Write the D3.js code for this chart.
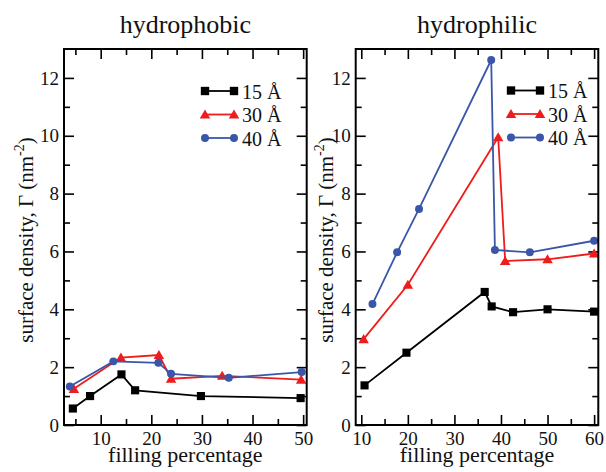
<!DOCTYPE html>
<html>
<head>
<meta charset="utf-8">
<script src="https://cdn.jsdelivr.net/npm/d3@7"></script>
<style>
  body { margin: 0; background: #fff; }
  svg { font-family: "Liberation Serif", "Times New Roman", serif; }
</style>
</head>
<body>
<svg id="chart" width="606" height="472"></svg>
<script>
// series names + colours
var seriesNames = ['15 Å', '30 Å', '40 Å'];
var seriesColors = ['#000000', '#ee1c1c', '#3a56a8'];
var seriesShapes = [d3.symbolSquare, d3.symbolTriangle, d3.symbolCircle];

// hydrophobic panel: filling percentage / surface density
var phobX15 = [4.5, 7.9, 14.1, 16.8, 29.8, 49.5];
var phobY15 = [0.57, 1.0, 1.75, 1.2, 1.0, 0.93];
var phobX30 = [4.7, 14.0, 21.5, 23.9, 34.0, 49.6];
var phobY30 = [1.25, 2.33, 2.42, 1.6, 1.7, 1.57];
var phobX40 = [3.9, 12.5, 21.4, 23.9, 35.3, 49.7];
var phobY40 = [1.33, 2.2, 2.15, 1.77, 1.63, 1.83];

// hydrophilic panel
var philX15 = [10.7, 19.7, 36.5, 38.0, 42.6, 50.0, 60.0];
var philY15 = [1.37, 2.5, 4.6, 4.1, 3.9, 4.0, 3.92];
var philX30 = [10.5, 20.0, 39.4, 40.9, 50.0, 60.0];
var philY30 = [2.97, 4.85, 9.95, 5.67, 5.73, 5.93];
var philX40 = [12.4, 17.7, 22.4, 37.9, 38.7, 46.2, 60.0];
var philY40 = [4.18, 5.97, 7.47, 12.62, 6.05, 5.97, 6.37];

var yMajor = [0, 2, 4, 6, 8, 10, 12];
var yMinor = [1, 3, 5, 7, 9, 11];
var phobXMajor = [10, 20, 30, 40, 50];
var phobXMinor = [5, 15, 25, 35, 45];
var philXMajor = [10, 20, 30, 40, 50, 60];
var philXMinor = [15, 25, 35, 45, 55];

function zip(xs, ys) { return xs.map(function(x, i) { return [x, ys[i]]; }); }

var svg = d3.select("#chart");
svg.append("rect").attr("width", 606).attr("height", 472).attr("fill", "#fff");

var plotTop = 49, plotBottom = 425;

function drawPanel(opt) {
  var w = opt.right - opt.left, h = plotBottom - plotTop;
  var g = svg.append("g").attr("transform", "translate(" + opt.left + "," + plotTop + ")");

  var x = d3.scaleLinear().domain(opt.xDomain).range([0, w]);
  var y = d3.scaleLinear().domain([0, 13]).range([h, 0]);

  // major + minor ticks on all four sides, pointing inward
  function ax(axisFn, scale, vals, size, pos, labels) {
    var a = axisFn(scale).tickValues(vals).tickSize(-size).tickPadding(axisFn === d3.axisLeft ? 5 : 7);
    if (!labels) a.tickFormat("");
    var gg = g.append("g").attr("transform", pos).call(a);
    gg.select(".domain").remove();
    gg.selectAll("line").attr("stroke", "#000").attr("stroke-width", 1.6);
    gg.selectAll("text").attr("fill", "#111").style("font-size", "19px")
      .style("font-family", '"Liberation Serif", serif');
    return gg;
  }
  ax(d3.axisBottom, x, opt.xMajor, 10, "translate(0," + h + ")", true);
  ax(d3.axisBottom, x, opt.xMinor, 6, "translate(0," + h + ")", false);
  ax(d3.axisTop, x, opt.xMajor, 10, "translate(0,0)", false);
  ax(d3.axisTop, x, opt.xMinor, 6, "translate(0,0)", false);
  ax(d3.axisLeft, y, yMajor, 10, "translate(0,0)", true);
  ax(d3.axisLeft, y, yMinor, 6, "translate(0,0)", false);
  ax(d3.axisRight, y, yMajor, 10, "translate(" + w + ",0)", false);
  ax(d3.axisRight, y, yMinor, 6, "translate(" + w + ",0)", false);

  var line = d3.line().x(function(d) { return x(d[0]); }).y(function(d) { return y(d[1]); });

  opt.series.forEach(function(s, i) {
    var pts = zip(s[0], s[1]);
    g.append("path").datum(pts).attr("d", line)
      .attr("fill", "none").attr("stroke", seriesColors[i]).attr("stroke-width", 1.8);
    var sym = d3.symbol().type(seriesShapes[i]).size(i === 0 ? 66 : (i === 1 ? 48 : 50));
    g.selectAll(".m" + i).data(pts).enter().append("path")
      .attr("d", sym)
      .attr("transform", function(d) { return "translate(" + x(d[0]) + "," + (y(d[1]) + (i === 1 ? 1 : 0)) + ")"; })
      .attr("fill", seriesColors[i]);
  });

  g.append("rect").attr("width", w).attr("height", h)
    .attr("fill", "none").attr("stroke", "#000").attr("stroke-width", 2);

  // legend
  var leg = g.append("g").attr("transform", "translate(" + (opt.legX - opt.left) + "," + (opt.legY - plotTop) + ")");
  seriesNames.forEach(function(name, i) {
    var ry = i * 23.5;
    leg.append("line").attr("x1", 0).attr("x2", 29).attr("y1", ry).attr("y2", ry)
      .attr("stroke", seriesColors[i]).attr("stroke-width", 1.8);
    var sym = d3.symbol().type(seriesShapes[i]).size(i === 0 ? 70 : (i === 1 ? 48 : 50));
    [0, 29].forEach(function(px) {
      leg.append("path").attr("d", sym)
        .attr("transform", "translate(" + px + "," + (ry + (i === 1 ? 1 : 0)) + ")")
        .attr("fill", seriesColors[i]);
    });
    leg.append("text").attr("x", 37).attr("y", ry + 7.5)
      .style("font-size", "20px").attr("fill", "#111").text(name);
  });

  // titles and axis labels
  svg.append("text").attr("x", (opt.left + opt.right) / 2).attr("y", 33)
    .attr("text-anchor", "middle").style("font-size", "26px").attr("fill", "#111").text(opt.title);
  svg.append("text").attr("x", (opt.left + opt.right) / 2).attr("y", 462)
    .attr("text-anchor", "middle").style("font-size", "22px").attr("fill", "#111").text("filling percentage");
  var yl = svg.append("text").attr("transform", "translate(" + opt.yLabX + ",240) rotate(-90)")
    .attr("text-anchor", "middle").style("font-size", "21px").attr("fill", "#111");
  yl.append("tspan").text("surface density, Γ (nm");
  yl.append("tspan").attr("dy", -9).style("font-size", "14px").text("-2");
  yl.append("tspan").attr("dy", 9).text(")");
}

drawPanel({
  left: 64, right: 306.7, xDomain: [2.75, 50.7],
  xMajor: phobXMajor, xMinor: phobXMinor,
  series: [[phobX15, phobY15], [phobX30, phobY30], [phobX40, phobY40]],
  legX: 205, legY: 91, title: "hydrophobic", yLabX: 33
});
drawPanel({
  left: 355.7, right: 598.3, xDomain: [8.8, 60.9],
  xMajor: philXMajor, xMinor: philXMinor,
  series: [[philX15, philY15], [philX30, philY30], [philX40, philY40]],
  legX: 511, legY: 90.5, title: "hydrophilic", yLabX: 333
});
</script>
</body>
</html>
